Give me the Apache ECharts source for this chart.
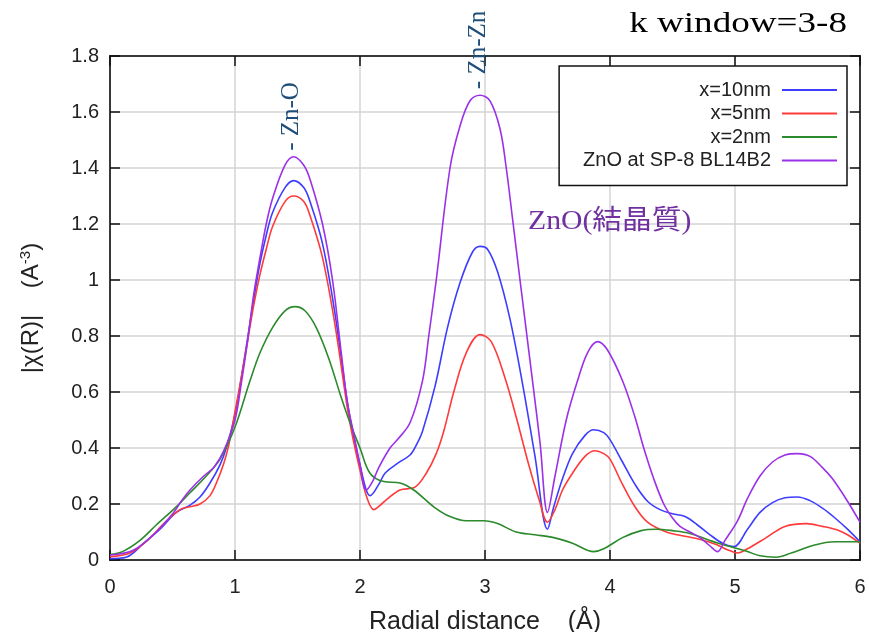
<!DOCTYPE html>
<html>
<head>
<meta charset="utf-8">
<script src="https://cdn.jsdelivr.net/npm/echarts@6/dist/echarts.min.js"></script>
<style>
  html, body { margin: 0; padding: 0; background: #fff; }
  #chart { width: 869px; height: 632px; }
</style>
</head>
<body>
<div id="chart"></div>
<script>
// |χ(R)| Fourier-transform magnitudes, k window 3-8
const seriesNames = ['x=10nm', 'x=5nm', 'x=2nm', 'ZnO at SP-8 BL14B2'];
const seriesColors = ['#3d3dff', '#ff3a3a', '#2b8a2b', '#9b30e8'];

const nm10 = [[0,0.005],[0.13,0.01],[0.27,0.06],[0.4,0.11],[0.53,0.17],[0.64,0.196],[0.72,0.225],[0.8,0.275],[0.88,0.34],[0.93,0.40],[1.0,0.52],[1.05,0.65],[1.1,0.79],[1.15,0.93],[1.2,1.06],[1.25,1.16],[1.3,1.24],[1.4,1.33],[1.47,1.355],[1.55,1.33],[1.6,1.28],[1.7,1.13],[1.8,0.88],[1.9,0.56],[1.95,0.44],[2.0,0.34],[2.05,0.25],[2.08,0.23],[2.15,0.27],[2.2,0.31],[2.3,0.345],[2.4,0.375],[2.45,0.41],[2.5,0.46],[2.6,0.62],[2.7,0.83],[2.8,0.99],[2.9,1.10],[2.96,1.12],[3.02,1.11],[3.1,1.03],[3.2,0.86],[3.3,0.63],[3.4,0.37],[3.5,0.11],[3.55,0.19],[3.62,0.29],[3.7,0.38],[3.8,0.445],[3.87,0.465],[3.95,0.455],[4.0,0.43],[4.1,0.35],[4.2,0.27],[4.3,0.21],[4.4,0.18],[4.5,0.165],[4.6,0.155],[4.7,0.125],[4.8,0.09],[4.9,0.06],[4.99,0.048],[5.1,0.11],[5.2,0.17],[5.3,0.205],[5.4,0.222],[5.5,0.225],[5.6,0.212],[5.7,0.185],[5.8,0.15],[5.9,0.11],[6.0,0.065]];

const nm5 = [[0,0.012],[0.16,0.025],[0.3,0.07],[0.43,0.13],[0.56,0.18],[0.64,0.19],[0.72,0.20],[0.8,0.23],[0.86,0.285],[0.91,0.345],[0.95,0.41],[1.0,0.53],[1.05,0.65],[1.1,0.78],[1.15,0.91],[1.2,1.02],[1.25,1.11],[1.3,1.19],[1.4,1.28],[1.47,1.30],[1.55,1.28],[1.6,1.23],[1.7,1.08],[1.8,0.84],[1.9,0.54],[1.95,0.42],[2.0,0.32],[2.05,0.23],[2.11,0.18],[2.16,0.195],[2.21,0.215],[2.32,0.25],[2.44,0.26],[2.53,0.31],[2.61,0.38],[2.67,0.46],[2.75,0.6],[2.85,0.74],[2.96,0.805],[3.05,0.78],[3.16,0.65],[3.25,0.51],[3.35,0.34],[3.43,0.22],[3.5,0.135],[3.56,0.18],[3.62,0.25],[3.7,0.31],[3.8,0.37],[3.88,0.39],[3.95,0.38],[4.0,0.36],[4.1,0.27],[4.2,0.19],[4.3,0.135],[4.45,0.10],[4.6,0.085],[4.75,0.07],[4.85,0.055],[4.95,0.035],[5.02,0.025],[5.1,0.04],[5.25,0.08],[5.4,0.12],[5.57,0.13],[5.7,0.12],[5.82,0.107],[5.9,0.09],[6.0,0.06]];

const nm2 = [[0,0.02],[0.1,0.03],[0.24,0.07],[0.37,0.125],[0.53,0.19],[0.64,0.24],[0.77,0.30],[0.88,0.36],[1.0,0.475],[1.12,0.64],[1.2,0.74],[1.3,0.83],[1.4,0.89],[1.48,0.905],[1.56,0.89],[1.65,0.83],[1.75,0.72],[1.85,0.58],[1.92,0.49],[2.0,0.40],[2.08,0.31],[2.19,0.28],[2.32,0.275],[2.43,0.25],[2.59,0.19],[2.72,0.155],[2.85,0.14],[2.99,0.14],[3.1,0.13],[3.25,0.10],[3.4,0.09],[3.55,0.08],[3.7,0.06],[3.87,0.03],[3.95,0.04],[4.1,0.08],[4.25,0.105],[4.37,0.11],[4.5,0.105],[4.64,0.095],[4.8,0.07],[4.96,0.048],[5.1,0.03],[5.2,0.015],[5.33,0.01],[5.45,0.025],[5.63,0.053],[5.8,0.065],[6.0,0.065]];

const znoRef = [[0,0.018],[0.19,0.036],[0.37,0.10],[0.51,0.17],[0.57,0.21],[0.64,0.25],[0.75,0.30],[0.83,0.33],[0.91,0.39],[1.0,0.50],[1.05,0.63],[1.1,0.78],[1.15,0.95],[1.2,1.08],[1.25,1.2],[1.3,1.29],[1.4,1.41],[1.47,1.44],[1.55,1.41],[1.6,1.36],[1.7,1.2],[1.78,1.0],[1.85,0.74],[1.9,0.56],[1.95,0.45],[2.0,0.34],[2.05,0.25],[2.1,0.28],[2.15,0.33],[2.24,0.40],[2.3,0.43],[2.4,0.49],[2.5,0.64],[2.55,0.8],[2.61,1.0],[2.72,1.40],[2.8,1.55],[2.88,1.64],[2.96,1.66],[3.04,1.64],[3.12,1.54],[3.17,1.40],[3.22,1.22],[3.28,1.0],[3.38,0.64],[3.44,0.42],[3.5,0.17],[3.56,0.30],[3.65,0.50],[3.74,0.64],[3.82,0.74],[3.9,0.78],[3.98,0.75],[4.1,0.64],[4.2,0.51],[4.27,0.40],[4.35,0.29],[4.43,0.20],[4.5,0.15],[4.56,0.12],[4.64,0.10],[4.72,0.08],[4.8,0.05],[4.86,0.03],[4.92,0.07],[5.02,0.14],[5.1,0.22],[5.2,0.30],[5.3,0.35],[5.4,0.375],[5.5,0.38],[5.6,0.37],[5.7,0.33],[5.78,0.29],[5.9,0.21],[6.0,0.135]];

// Peak assignments: [R, |χ(R)|, text]
const peakLabels = [[1.47, 1.44, '- Zn-O'], [2.96, 1.66, '- Zn-Zn']];

const sans = '"Liberation Sans", Arial, sans-serif';
const serif = '"Liberation Serif", "Times New Roman", "Noto Sans CJK JP", serif';

const chart = echarts.init(document.getElementById('chart'), null, { renderer: 'canvas' });

const axisCommon = {
  type: 'value',
  axisLine: { show: true, onZero: false, lineStyle: { color: '#111', width: 1.5 } },
  axisTick: { show: true, inside: true, length: 10, lineStyle: { color: '#111', width: 1.5 } }
};

chart.setOption({
  animation: false,
  backgroundColor: '#fff',
  grid: {
    left: 110, right: 9, top: 56, bottom: 72,
    outerBoundsMode: 'none', containLabel: false,
    show: true, borderColor: '#111', borderWidth: 1.5
  },
  legend: {
    data: seriesNames.map(n => ({ name: n, icon: 'rect' })),
    orient: 'vertical',
    align: 'right',
    right: 22, top: 66,
    itemWidth: 55, itemHeight: 2, itemGap: 3.5,
    padding: [14, 10, 15, 24],
    borderColor: '#111', borderWidth: 1.5,
    backgroundColor: '#fff',
    textStyle: { fontFamily: sans, fontSize: 20, color: '#222', padding: [0, 6, 0, 0] }
  },
  xAxis: [
    Object.assign({}, axisCommon, {
      min: 0, max: 6, interval: 1,
      name: 'Radial distance    (Å)',
      nameLocation: 'middle', nameGap: 50,
      nameTextStyle: { fontFamily: sans, fontSize: 25, color: '#222' },
      axisLabel: { fontFamily: sans, fontSize: 20, color: '#222', margin: 17, showMinLabel: true, showMaxLabel: true },
      splitLine: { show: true, lineStyle: { color: '#d4d4d4', width: 1.5 } }
    }),
    Object.assign({}, axisCommon, {
      position: 'top', min: 0, max: 6, interval: 1,
      axisLabel: { show: false }, splitLine: { show: false }
    })
  ],
  yAxis: [
    Object.assign({}, axisCommon, {
      min: 0, max: 1.8, interval: 0.2,
      name: '|χ(R)|    (A{sup|-3})',
      nameLocation: 'middle', nameGap: 66,
      nameTextStyle: {
        fontFamily: sans, fontSize: 24, color: '#222',
        rich: { sup: { fontFamily: sans, fontSize: 15, color: '#222', padding: [0, 0, 11, 0] } }
      },
      axisLabel: { fontFamily: sans, fontSize: 20, color: '#222', margin: 11, showMinLabel: true, showMaxLabel: true },
      splitLine: { show: true, lineStyle: { color: '#d4d4d4', width: 1.5 } }
    }),
    Object.assign({}, axisCommon, {
      position: 'right', min: 0, max: 1.8, interval: 0.2,
      axisLabel: { show: false }, splitLine: { show: false }
    })
  ],
  series: [nm10, nm5, nm2, znoRef].map((d, i) => ({
    name: seriesNames[i],
    type: 'line',
    data: d,
    smooth: 0.35,
    symbol: 'none',
    color: seriesColors[i],
    lineStyle: { width: 1.6, color: seriesColors[i] },
    z: 3 + i
  }))
});

// Peak assignment texts, anchored just above each peak
const graphics = peakLabels.map(([r, v, txt]) => {
  const p = chart.convertToPixel({ gridIndex: 0 }, [r, v]);
  return {
    type: 'text',
    x: p[0] - 2, y: p[1] - 6,
    rotation: Math.PI / 2,
    style: {
      text: txt, fontFamily: serif, fontSize: 25, fill: '#1f4e79',
      align: 'left', verticalAlign: 'middle'
    },
    z: 10
  };
});
graphics.push({
  type: 'text',
  x: 528, y: 222, scaleX: 1.1,
  style: {
    text: 'ZnO(結晶質)', fontFamily: serif, fontSize: 27, fill: '#7030a0',
    align: 'left', verticalAlign: 'middle'
  },
  z: 10
});
graphics.push({
  type: 'text',
  x: 847, y: 24, scaleX: 1.28,
  style: {
    text: 'k window=3-8', fontFamily: serif, fontSize: 29, fill: '#000',
    align: 'right', verticalAlign: 'middle'
  },
  z: 10
});
chart.setOption({ graphic: graphics });
</script>
</body>
</html>
